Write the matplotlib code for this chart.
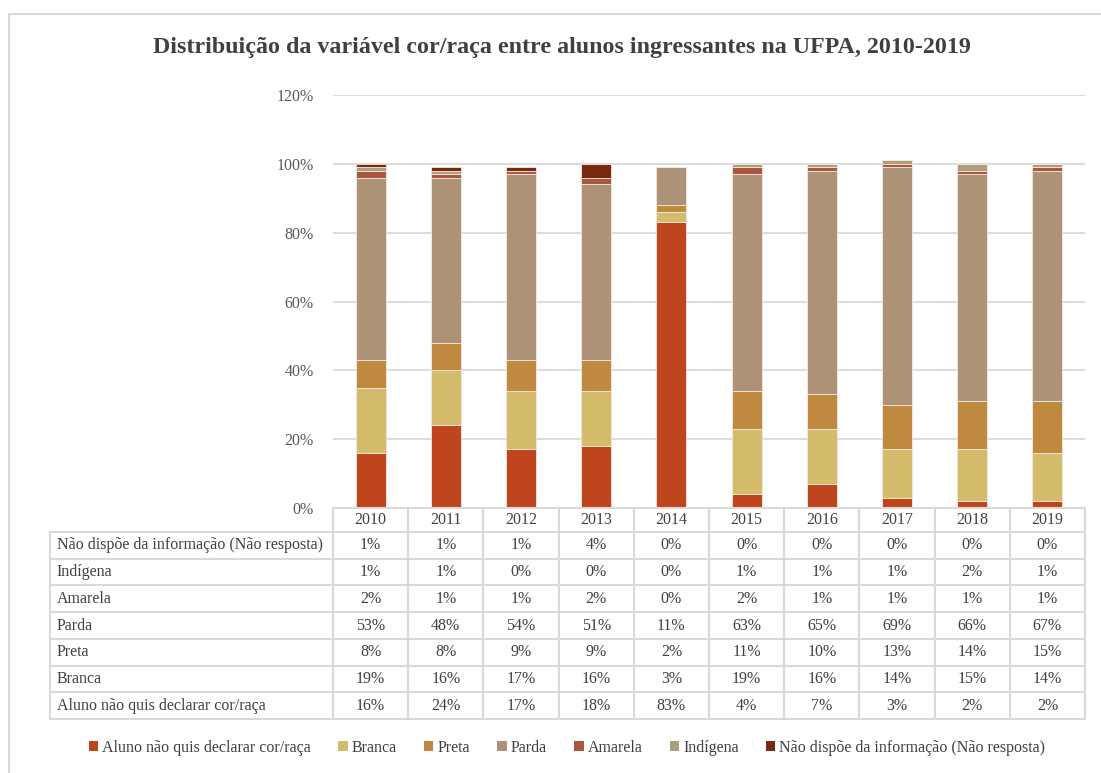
import matplotlib
matplotlib.use("Agg")
import matplotlib.pyplot as plt
from matplotlib.patches import Patch, Rectangle
import numpy as np

plt.rcParams['font.family'] = ['Liberation Serif', 'DejaVu Serif']

years = ['2010', '2011', '2012', '2013', '2014', '2015', '2016', '2017', '2018', '2019']
series_names = ['Aluno não quis declarar cor/raça', 'Branca', 'Preta', 'Parda',
                'Amarela', 'Indígena', 'Não dispõe da informação (Não resposta)']
aluno = [16, 24, 17, 18, 83, 4, 7, 3, 2, 2]
branca = [19, 16, 17, 16, 3, 19, 16, 14, 15, 14]
preta = [8, 8, 9, 9, 2, 11, 10, 13, 14, 15]
parda = [53, 48, 54, 51, 11, 63, 65, 69, 66, 67]
amarela = [2, 1, 1, 2, 0, 2, 1, 1, 1, 1]
indigena = [1, 1, 0, 0, 0, 1, 1, 1, 2, 1]
nao_dispoe = [1, 1, 1, 4, 0, 0, 0, 0, 0, 0]
yticks = [0, 20, 40, 60, 80, 100, 120]
title = 'Distribuição da variável cor/raça entre alunos ingressantes na UFPA, 2010-2019'

series = [aluno, branca, preta, parda, amarela, indigena, nao_dispoe]
colors = ['#BF451C', '#D5BC6C', '#BF8A3F', '#AD9277', '#A9573F', '#AD9E7C', '#7A2911']

W, H = 1101, 773
fig = plt.figure(figsize=(W / 100, H / 100), dpi=100)
fig.patch.set_facecolor('white')

# outer chart border
fig.patches.append(Rectangle((9 / W, -0.1), 1.2, 1 - 14 / H + 0.1, transform=fig.transFigure,
                             fill=False, edgecolor='#D9D9D9', lw=1.5))

px_left, px_right = 333, 1085
px_zero, px_top = 508, 95
ax = fig.add_axes([px_left / W, 1 - px_zero / H, (px_right - px_left) / W, (px_zero - px_top) / H])
x = np.arange(len(years))
bottom = np.zeros(len(years))
for vals, c, name in zip(series, colors, series_names):
    v = np.array(vals, dtype=float)
    ax.bar(x, v, 0.4, bottom=bottom, color=c, edgecolor='#F3E9E1', linewidth=0.6, label=name, zorder=3)
    bottom += v
ax.set_xlim(-0.5, len(years) - 0.5)
ax.set_ylim(0, 120)
ax.set_yticks(yticks)
ax.set_yticklabels([f'{t}%' for t in yticks], fontsize=11.5, color='#595959')
ax.tick_params(axis='y', length=0, pad=14)
ax.set_xticks([])
for s in ax.spines.values():
    s.set_visible(False)
ax.yaxis.grid(True, color='#D9D9D9', lw=1.3, zorder=0)

# data table
tbl_left, tbl_bottom = 50, 719
colw = (px_right - px_left) / len(years)
xl = -0.5 - (px_left - tbl_left) / colw
tax = fig.add_axes([tbl_left / W, 1 - tbl_bottom / H, (px_right - tbl_left) / W, (tbl_bottom - px_zero) / H])
hdr = 0.9
nrows = len(series)
tax.set_xlim(xl, len(years) - 0.5)
tax.set_ylim(hdr + nrows, 0)
tax.axis('off')
lc = '#D9D9D9'
lw = 1.5
tax.plot([-0.5, len(years) - 0.5], [0, 0], color=lc, lw=lw, clip_on=False)
for i in range(len(years) + 1):
    tax.plot([i - 0.5, i - 0.5], [0, hdr + nrows], color=lc, lw=lw, clip_on=False)
tax.plot([xl, xl], [hdr, hdr + nrows], color=lc, lw=lw, clip_on=False)
for r in range(nrows + 1):
    tax.plot([xl, len(years) - 0.5], [hdr + r, hdr + r], color=lc, lw=lw, clip_on=False)
tc = '#404040'
for i, yr in enumerate(years):
    tax.text(i, hdr / 2, yr, ha='center', va='center', fontsize=11.5, color=tc)
for r, k in enumerate(range(nrows - 1, -1, -1)):
    yc = hdr + r + 0.5
    tax.text(xl + 0.09, yc, series_names[k], ha='left', va='center', fontsize=11.5, color=tc)
    for i in range(len(years)):
        tax.text(i, yc, f'{series[k][i]}%', ha='center', va='center', fontsize=11.5, color=tc)

fig.text(562 / W, 1 - 47 / H, title, ha='center', va='center', fontsize=17.3, fontweight='bold', color='#404040')

handles = [Patch(facecolor=c, edgecolor='none') for c in colors]
fig.legend(handles, series_names, loc='center', bbox_to_anchor=(567 / W, 1 - 748 / H), ncol=7,
           frameon=False, fontsize=11.5, handlelength=0.6, handleheight=0.6, handletextpad=0.25,
           columnspacing=1.7, labelcolor='#404040')

fig.savefig('out.png', dpi=100)
